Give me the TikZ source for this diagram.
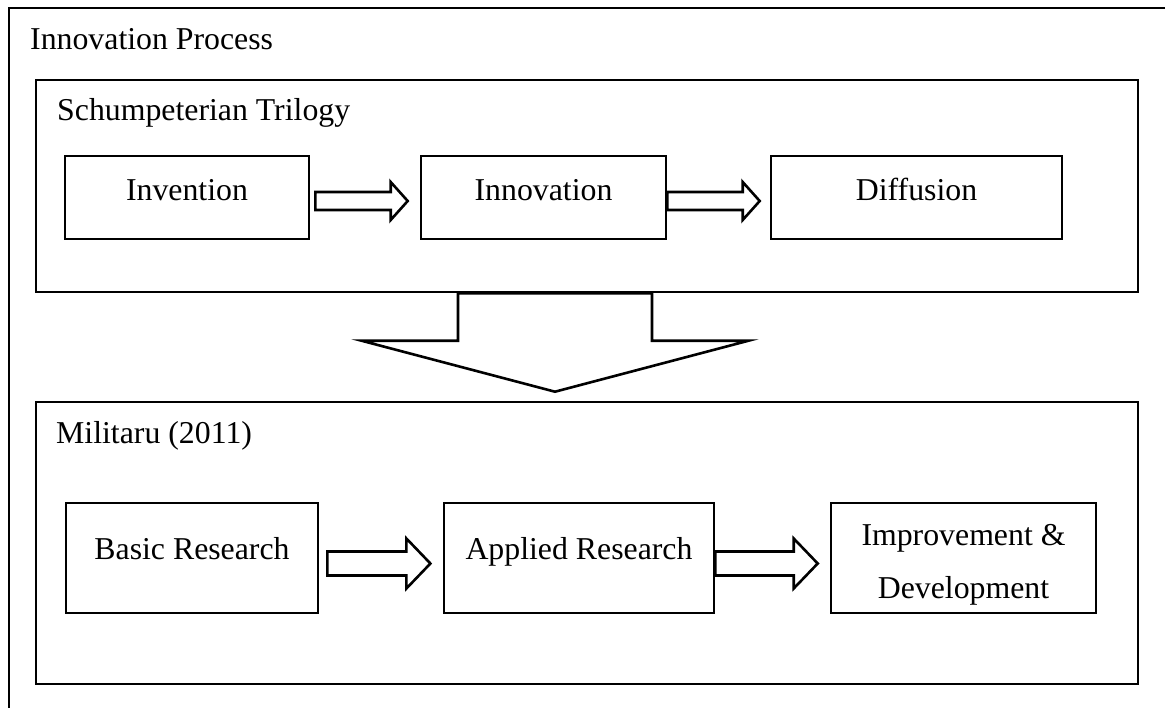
\documentclass[tikz,border=0pt]{standalone}
\usepackage{fontspec}
\setmainfont{Liberation Serif}
\usetikzlibrary{calc}

\tikzset{
  frameline/.style={draw=black, line width=2.6pt},
  stagebox/.style={draw=black, line width=2.6pt, rectangle, inner sep=0pt},
  lbl/.style={inner sep=0pt, font=\fontsize{31.8}{38}\selectfont},
  blockarrow/.style={draw=black, line width=2.6pt, fill=white, line join=miter},
}

% hollow block arrow pointing right: #1 start, #2 tip, #3 shaft half-height,
% #4 head half-height, #5 head length
\newcommand{\rightblock}[5]{%
  \draw[blockarrow] let \p1=#1, \p2=#2 in
    (\x1,\y2+#3) -- (\x2-#5,\y2+#3) -- (\x2-#5,\y2+#4) -- (\x2,\y2)
    -- (\x2-#5,\y2-#4) -- (\x2-#5,\y2-#3) -- (\x1,\y2-#3) -- cycle;}

\begin{document}
\begin{tikzpicture}[x=1pt, y=-1pt]
  \useasboundingbox (0,0) rectangle (1167,707);
  \fill[white] (0,0) rectangle (1167,707);

  % outer frame (open to the right and bottom)
  \draw[frameline] (1165,8) -- (9,8) -- (9,712);
  \node[lbl, anchor=base west] (ttl) at (30,49.3) {Innovation Process};

  % Schumpeterian trilogy
  \node[stagebox, minimum width=1102pt, minimum height=212pt] (schum) at (587,186) {};
  \node[lbl, anchor=base west] (schumT) at (57,120) {Schumpeterian Trilogy};

  \node[stagebox, minimum width=244pt, minimum height=83pt] (inv) at (187,197.5) {};
  \node[stagebox, minimum width=245pt, minimum height=83pt] (inn) at (543.5,197.5) {};
  \node[stagebox, minimum width=291pt, minimum height=83pt] (dif) at (916.5,197.5) {};
  \node[lbl, anchor=base] (invT) at ($(inv.center)+(0,2.5)$) {Invention};
  \node[lbl, anchor=base] (innT) at ($(inn.center)+(0,2.5)$) {Innovation};
  \node[lbl, anchor=base] (difT) at ($(dif.center)+(0,2.5)$) {Diffusion};

  \rightblock{($(inv.east)+(5,3.5)$)}{($(inn.west)+(-12,3.5)$)}{9pt}{19pt}{17pt}
  \rightblock{($(inn.east)+(0,3.5)$)}{($(dif.west)+(-10,3.5)$)}{9pt}{19pt}{17pt}

  % Militaru (2011)
  \node[stagebox, minimum width=1102pt, minimum height=282pt] (mil) at (587,543) {};
  \node[lbl, anchor=base west] (milT) at (56,443.3) {Militaru (2011)};

  \node[stagebox, minimum width=252pt, minimum height=110pt] (bas) at (192,558) {};
  \node[stagebox, minimum width=270pt, minimum height=110pt] (app) at (579,558) {};
  \node[stagebox, minimum width=265pt, minimum height=110pt] (imp) at (963.5,558) {};
  \node[lbl, anchor=base] (basT) at ($(bas.center)+(0,1.3)$) {Basic Research};
  \node[lbl, anchor=base] (appT) at ($(app.center)+(0,1.3)$) {Applied Research};
  \node[lbl, anchor=base] (impT1) at ($(imp.center)+(0,-13)$) {Improvement \&};
  \node[lbl, anchor=base] (impT2) at ($(imp.center)+(0,40.3)$) {Development};

  \rightblock{($(bas.east)+(8,5.5)$)}{($(app.west)+(-12.3,5.5)$)}{12pt}{25pt}{24pt}
  \rightblock{($(app.east)+(0,5.5)$)}{($(imp.west)+(-12,5.5)$)}{12pt}{25pt}{24pt}

  % large downward block arrow between the two frameworks
  \coordinate (dtop) at ($(schum.south)+(-32,0)$);
  \coordinate (dtip) at ($(mil.north)+(-32,-9)$);
  \draw[blockarrow] let \p1=(dtop), \p2=(dtip) in
    (\x2-97pt,\y1) -- (\x2-97pt,\y2+51pt) -- (\x2-193.5pt,\y2+51pt) -- (\x2,\y2)
    -- (\x2+193.5pt,\y2+51pt) -- (\x2+97pt,\y2+51pt) -- (\x2+97pt,\y1) -- cycle;
\end{tikzpicture}
\end{document}
